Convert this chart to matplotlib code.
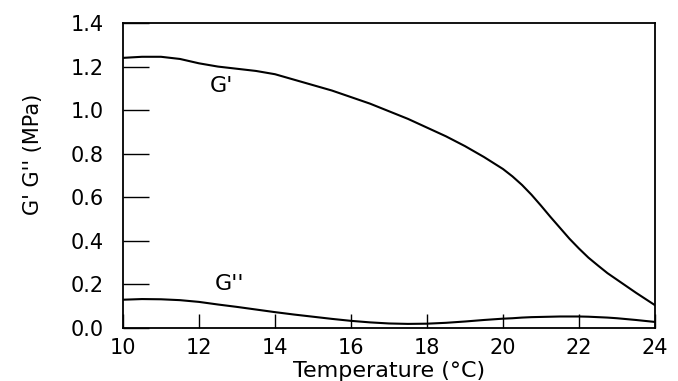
import matplotlib as mpl
import matplotlib.pyplot as plt

mpl.use('Agg')

temp = [10, 10.5, 11, 11.5, 12, 12.5, 13, 13.5, 14, 14.5, 15, 15.5, 16, 16.5,
        17, 17.5, 18, 18.5, 19, 19.5, 20, 20.25, 20.5, 20.75, 21, 21.25, 21.5,
        21.75, 22, 22.25, 22.5, 22.75, 23, 23.5, 24]
g1 = [1.24, 1.245, 1.245, 1.235, 1.215, 1.2, 1.19, 1.18, 1.165, 1.14, 1.115, 1.09,
      1.06, 1.03, 0.995, 0.96, 0.92, 0.88, 0.835, 0.785, 0.73, 0.696, 0.657, 0.612,
      0.562, 0.51, 0.46, 0.41, 0.365, 0.323, 0.287, 0.252, 0.222, 0.162, 0.105]
g2 = [0.13, 0.133, 0.132, 0.128, 0.12, 0.108, 0.097, 0.085, 0.073, 0.062, 0.052,
      0.042, 0.033, 0.026, 0.021, 0.019, 0.02, 0.024, 0.03, 0.037, 0.043, 0.045,
      0.048, 0.05, 0.051, 0.052, 0.053, 0.053, 0.053, 0.052, 0.05, 0.048, 0.045,
      0.037, 0.028]

xticks = [10, 12, 14, 16, 18, 20, 22, 24]
yticks = [0.0, 0.2, 0.4, 0.6, 0.8, 1.0, 1.2, 1.4]

fig = plt.figure(figsize=(6.78, 3.81), dpi=100)
ax = fig.add_axes([0.1814, 0.139, 0.7846, 0.8006])
ax.plot(temp, g1, color='black', lw=1.5)
ax.plot(temp, g2, color='black', lw=1.5)

ax.text(12.6, 1.11, "G'", fontsize=16, ha='center', va='center')
ax.text(12.8, 0.2, "G''", fontsize=16, ha='center', va='center')

ax.set_xlim(10, 24)
ax.set_ylim(0, 1.4)
ax.set_xticks(xticks)
ax.set_yticks(yticks)
ax.set_yticklabels(['%.1f' % v for v in yticks])
ax.tick_params(axis='y', direction='in', length=19, width=1, pad=14, labelsize=15)
ax.tick_params(axis='x', direction='in', length=10, width=1, pad=7, labelsize=15)
for s in ax.spines.values():
    s.set_linewidth(1.3)

ax.set_xlabel('Temperature (°C)', fontsize=16, labelpad=2)
ax.set_ylabel("G' G'' (MPa)", fontsize=15)
ax.yaxis.set_label_coords(-0.15, 0.57)

fig.savefig('out.png')
